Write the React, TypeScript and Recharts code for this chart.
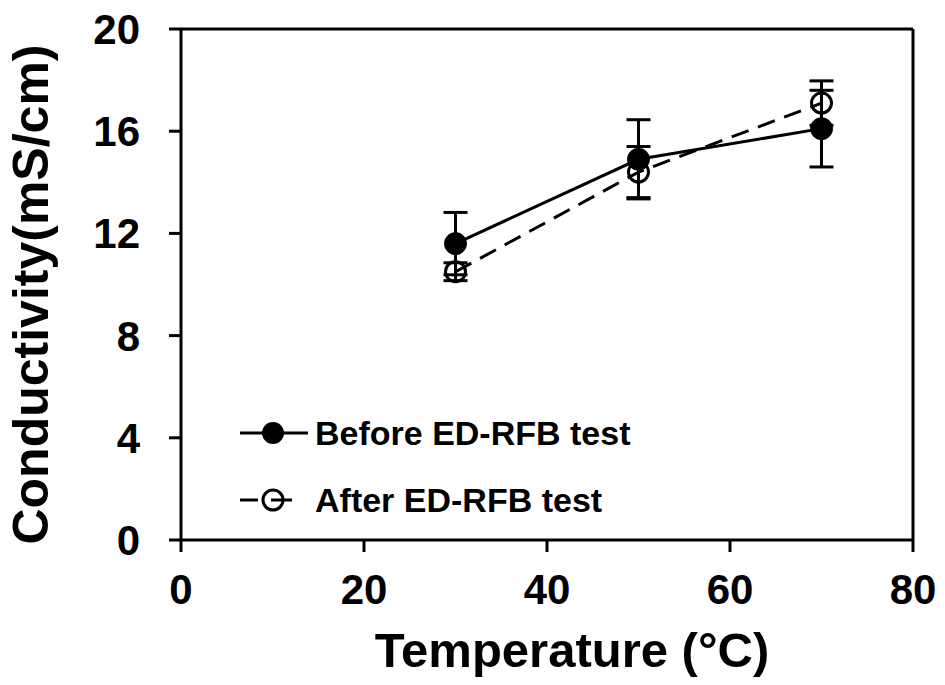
import { ComposedChart, Line, XAxis, YAxis, ErrorBar, ReferenceLine } from 'recharts'

const temperatures = [30, 50, 70]
const beforeValues = [11.6, 14.9, 16.1]
const beforeErrors = [1.22, 1.55, 1.5]
const afterValues = [10.5, 14.4, 17.1]
const afterErrors = [0.35, 1.0, 0.87]
const xTicks = [0, 20, 40, 60, 80]
const yTicks = [0, 4, 8, 12, 16, 20]

const data = temperatures.map((t, i) => ({
  t,
  before: beforeValues[i],
  beforeErr: beforeErrors[i],
  after: afterValues[i],
  afterErr: afterErrors[i],
}))

const FONT = '"Liberation Sans", Arial, sans-serif'
const tickStyle = { fontSize: 42, fontWeight: 700, fill: '#000', fontFamily: FONT }

function FilledDot(props: any) {
  const { cx, cy } = props
  return <circle cx={cx} cy={cy} r={11} fill="#000" stroke="#000" strokeWidth={1} />
}

function OpenDot(props: any) {
  const { cx, cy } = props
  return <circle cx={cx} cy={cy} r={10} fill="none" stroke="#000" strokeWidth={3} />
}

// legend sits inside the plot, lower left
function LegendBox() {
  const text = { fontSize: 34, fontWeight: 700, fontFamily: FONT, fill: '#000' }
  return (
    <svg width={420} height={110} style={{ position: 'absolute', left: 240, top: 410 }}>
      <line x1={0} y1={23} x2={68} y2={23} stroke="#000" strokeWidth={3} />
      <circle cx={33} cy={23} r={11} fill="#000" />
      <text x={75} y={35} style={text}>Before ED-RFB test</text>
      <line x1={0} y1={90} x2={18} y2={90} stroke="#000" strokeWidth={3} />
      <circle cx={33} cy={90} r={10} fill="none" stroke="#000" strokeWidth={3} />
      <line x1={31} y1={90} x2={52} y2={90} stroke="#000" strokeWidth={3} />
      <text x={75} y={102} style={text}>After ED-RFB test</text>
    </svg>
  )
}

function YTitle(props: any) {
  const { viewBox } = props
  const cy = viewBox.y + viewBox.height / 2 + 10
  return (
    <text
      x={48}
      y={cy}
      transform={`rotate(-90, 48, ${cy})`}
      textAnchor="middle"
      style={{ fontSize: 50, fontWeight: 700, fontFamily: FONT, fill: '#000' }}
    >
      Conductivity(mS/cm)
    </text>
  )
}

function XTitle(props: any) {
  const { viewBox } = props
  const cx = viewBox.x + viewBox.width / 2 + 25
  return (
    <text
      x={cx}
      y={667}
      textAnchor="middle"
      style={{ fontSize: 49, fontWeight: 700, fontFamily: FONT, fill: '#000' }}
    >
      Temperature (°C)
    </text>
  )
}

export default function App() {
  return (
    <div style={{ position: 'absolute', left: 0, top: 0, width: 945, height: 685, background: '#fff' }}>
      <ComposedChart
        width={945}
        height={685}
        data={data}
        margin={{ top: 29, right: 32, bottom: 0, left: 61 }}
      >
        <XAxis
          dataKey="t"
          type="number"
          domain={[0, 80]}
          ticks={xTicks}
          height={145}
          tickSize={12}
          tickMargin={22}
          tick={tickStyle}
          stroke="#000"
          strokeWidth={3}
          label={<XTitle />}
        />
        <YAxis
          type="number"
          domain={[0, 20]}
          ticks={yTicks}
          width={120}
          tickSize={12}
          tickMargin={29}
          tick={tickStyle}
          stroke="#000"
          strokeWidth={3}
          label={<YTitle />}
        />
        <ReferenceLine y={20} stroke="#000" strokeWidth={3} />
        <ReferenceLine x={80} stroke="#000" strokeWidth={3} />
        <Line
          dataKey="after"
          stroke="#000"
          strokeWidth={3}
          strokeDasharray="18 10"
          dot={<OpenDot />}
          isAnimationActive={false}
        >
          <ErrorBar dataKey="afterErr" width={12} stroke="#000" strokeWidth={3} />
        </Line>
        <Line
          dataKey="before"
          stroke="#000"
          strokeWidth={3}
          dot={<FilledDot />}
          isAnimationActive={false}
        >
          <ErrorBar dataKey="beforeErr" width={12} stroke="#000" strokeWidth={3} />
        </Line>
      </ComposedChart>
      <LegendBox />
    </div>
  )
}
